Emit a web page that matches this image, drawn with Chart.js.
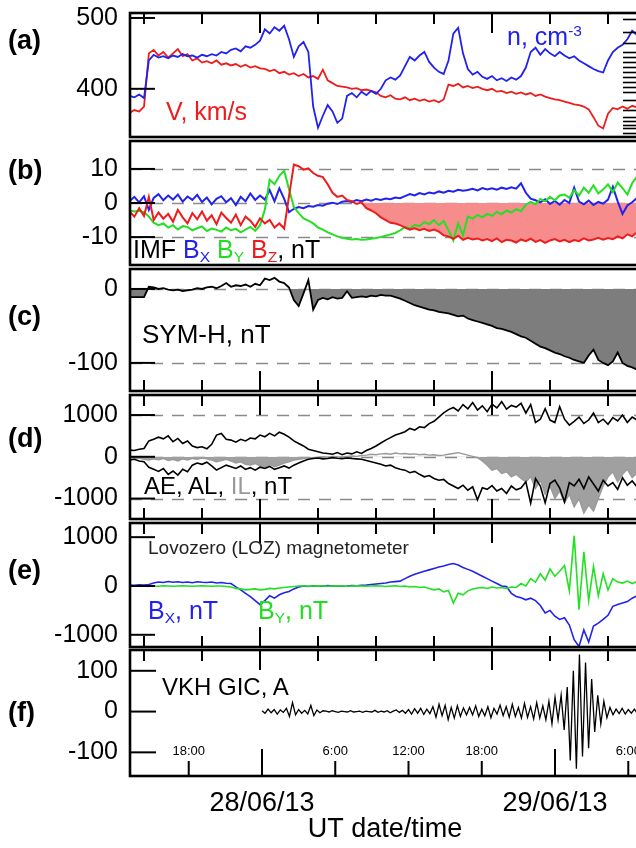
<!DOCTYPE html>
<html><head><meta charset="utf-8">
<script src="https://cdn.jsdelivr.net/npm/chart.js@4.4.1/dist/chart.umd.min.js"></script>
<style>
html,body{margin:0;padding:0;background:#fff;}
body{width:636px;height:848px;overflow:hidden;position:relative;font-family:"Liberation Sans",Arial,sans-serif;}
#wrap{position:absolute;left:0;top:0;width:636px;height:848px;overflow:hidden;}
.t{position:absolute;white-space:nowrap;line-height:1;transform:translateY(-50%);z-index:5;}
.pl{font-weight:bold;font-size:27px;left:8px;color:#000;}
sub{font-size:62%;line-height:0;vertical-align:-0.3em;}
sup{font-size:62%;line-height:0;vertical-align:0.55em;}
</style></head><body><div id="wrap">
<div class="t pl" style="top:40px">(a)</div>
<div class="t pl" style="top:170px">(b)</div>
<div class="t pl" style="top:316px">(c)</div>
<div class="t pl" style="top:438px">(d)</div>
<div class="t pl" style="top:570px">(e)</div>
<div class="t pl" style="top:712px">(f)</div>
<div class="t" style="left:507px;top:36px;font-size:25px;color:#2222ee">n, cm<sup>-3</sup></div>
<div class="t" style="left:166px;top:111px;font-size:25px;color:#ee1c1c">V, km/s</div>
<div class="t" style="left:133px;top:249px;font-size:25px;color:#000">IMF <span style="color:#2222ee">B<sub>X</sub></span> <span style="color:#22dd22">B<sub>Y</sub></span> <span style="color:#ee1c1c">B<sub>Z</sub></span>, nT</div>
<div class="t" style="left:142px;top:334px;font-size:26px;color:#000">SYM-H, nT</div>
<div class="t" style="left:144px;top:486px;font-size:24px;color:#000">AE, AL, <span style="color:#999">IL</span>, nT</div>
<div class="t" style="left:148px;top:547px;font-size:19px;color:#222">Lovozero (LOZ) magnetometer</div>
<div class="t" style="left:148px;top:610px;font-size:25px;color:#2222ee">B<sub>X</sub>, nT</div>
<div class="t" style="left:258px;top:610px;font-size:25px;color:#22dd22">B<sub>Y</sub>, nT</div>
<div class="t" style="left:162px;top:687px;font-size:24px;color:#000">VKH GIC, A</div>
</div>
<script>
// ---------------- DATA ----------------
// time in hours since 27/06/13 00:00 UT
const topStart = 10.5, topStep = 0.5;     // panels (a)-(e)
const gicStart = 24, gicStep = 0.25;      // panel (f)

// (a) solar wind speed V (km/s) and density n (drawn on same frame)
const aV = [366,370,368,375,
450,
455,447,452,444,450,456,446,449,
440,443,437,439,436,440,434,436,433,435,431,434,430,432,429,
428,425,427,422,424,420,422,418,421,416,418,
414,427,412,408,404,403,
402,400,401,398,399,397,395,
390,388,391,386,385,388,384,386,383,385,382,384,381,385,
406,404,407,402,404,401,403,400,
398,400,396,397,394,396,393,395,392,394,390,392,389,
387,385,384,382,380,378,377,375,
371,360,348,344,365,373,371,375,372,376,374,375];
const aN = [390,388,392,387,
440,
448,444,446,443,447,445,449,446,
447,444,448,446,449,447,452,450,455,
457,453,460,458,462,
468,484,478,487,482,489,470,445,460,466,452,375,345,362,377,368,352,358,
390,394,388,396,391,397,393,
400,412,416,413,419,432,445,440,447,452,438,430,424,421,
440,478,486,450,428,420,424,417,414,418,412,415,411,416,413,418,
430,452,458,448,456,450,446,452,447,443,446,440,436,432,428,425,423,
440,452,458,462,470,482,476,470];

// (b) IMF components, nT
const bBx = [0.5,1.8,0.2,2.0,-2.0,1.5,2.6,0.8,2.2,1.0,2.5,0.4,1.9,0.9,2.4,0.3,1.6,-0.4,1.2,2.0,0.2,1.4,-0.6,1.8,0.5,2.8,0.9,2.2,
1.0,3.8,0.5,4.3,1.2,
-2.7,
-1.7,-1.2,-1.5,-0.9,-1.1,-0.6,-0.8,-0.2,0.1,-0.3,0.4,
0.6,0.3,0.9,0.5,1.0,0.7,1.2,0.9,1.3,1.1,1.6,1.4,
2.0,2.6,2.2,2.9,2.5,3.1,2.8,3.4,3.0,3.6,3.3,3.9,3.6,
3.8,4.2,3.7,4.4,4.0,4.3,3.9,4.5,4.1,4.6,4.2,5.8,
3.0,1.3,
0.8,0.2,1.1,-0.3,0.6,-0.5,0.9,0.0,4.5,0.4,-0.4,0.7,-0.6,0.3,-0.2,1.0,4.8,0.5,-3.2,-0.7,0.2,1.5,0.8];
const bBy = [-2.2,-2.5,-2.3,-2.7,
-4.0,-5.8,-6.5,
-6.0,-7.2,-6.5,-7.8,-6.8,-7.0,-8.0,-7.4,-6.9,-8.2,-7.5,-7.9,-8.4,-7.2,-8.0,-7.6,-8.6,-7.8,-7.0,-8.2,-6.5,
-2.0,6.8,5.5,8.0,9.5,4.0,
-1.2,-3.0,-4.5,-5.2,
-6.0,-7.2,-7.8,-8.6,-9.2,-9.8,-10.2,
-10.5,-10.7,-10.6,-10.8,-10.7,-10.5,-10.3,
-10.0,-9.6,-9.2,-8.8,-8.0,
-7.0,-7.5,-6.4,-6.8,-5.6,-6.2,-5.0,-6.5,-5.3,
-8.0,-11.0,-6.0,-9.5,
-4.0,-4.6,-3.5,-4.2,-3.2,-3.8,-2.6,-3.3,-2.2,-2.8,-1.8,-2.4,
-0.5,0.3,-0.4,1.2,0.5,1.8,0.8,2.2,
2.5,1.5,3.8,2.2,4.5,3.0,5.2,2.8,4.0,5.5,3.2,6.0,4.4,2.5,5.8,7.8,6.5];
const bBz = [-2.5,-4.0,-1.5,-3.8,1.8,-5.0,-2.8,-4.6,-3.2,-5.5,-2.0,-4.2,-6.0,-3.0,-4.8,-2.5,-5.2,-3.6,-6.2,-2.8,-4.4,-5.8,-3.4,-6.5,-4.0,-5.2,-7.0,-4.5,
-6.0,-5.0,-7.2,-6.0,-7.5,
2.0,11.3,10.8,
9.8,10.2,8.8,8.0,7.6,
5.5,3.0,1.8,2.2,
0.9,0.5,-0.3,0.2,
-1.5,-2.2,-3.0,-4.2,-5.0,-5.8,-6.0,-6.5,
-7.2,-7.8,-7.4,-8.0,-7.6,-8.2,-7.8,-8.4,-9.5,
-9.8,-10.5,-9.6,-10.8,-10.2,-10.7,-10.4,-11.0,
-10.6,-11.2,-10.4,-11.5,-10.8,-11.0,-11.6,-10.7,-11.2,-10.5,-11.4,-10.9,-11.7,-11.0,-10.6,-11.3,-10.8,-11.5,-10.9,-11.2,-10.4,-11.0,-10.7,-10.2,-10.8,-10.3,-10.6,-9.8,-10.4,-9.2,-9.8,-8.6,-9.0];
const bFillFrom = 33.5;   // Bz shading starts here (hours)

// (c) SYM-H, nT
const cSymH = [-11,-11,-11,-11,
3,
2,0,1,-1,-2,-1,-3,-2,
-1,1,0,2,3,1,4,8,3,5,4,6,3,7,5,
14,12,15,10,8,
2,
-15,-23,
-6,
12,
-28,
-15,-12,-14,-11,-13,-12,
-3,
-12,-11,-10,-11,-9,-10,-8,-9,
-9,-11,-13,
-16,-19,-22,-24,-26,-28,-29,-31,-32,
-33,-35,-37,-36,-40,-42,-44,-46,
-48,-50,-53,-54,-56,-58,-61,-64,
-66,-70,-74,-78,-80,
-83,-86,-88,-91,-93,-96,-98,-100,
-90,-82,
-96,-100,-103,-98,-86,-100,-104,-106,-109,-111];

// (d) AE, AL, IL, nT
const dAE = [160,150,180,200,
380,420,470,430,500,
360,440,320,380,
260,220,240,190,
300,520,560,420,
400,350,420,380,
450,430,520,480,560,500,590,540,470,
380,320,260,180,150,
120,90,80,60,100,50,90,70,120,80,
150,200,260,330,400,460,520,560,
600,680,640,720,700,794,
850,950,1050,1130,
1180,1100,1250,1150,1300,1120,1220,1080,1260,1170,1320,1140,1230,1190,1280,
1050,1250,820,900,1150,
880,820,1200,900,760,850,950,800,880,1050,820,900,780,940,860,1000,820,950,880,920];
const dAL = [-80,-60,-100,-120,
-250,-300,-350,-280,-420,-340,-437,-300,-360,
-200,-150,-180,-130,-220,-318,-260,-200,
-240,-280,-220,-300,-260,-320,-250,-280,-230,-300,-260,-220,-270,
-200,-150,-100,-60,-40,
-30,-50,-40,-20,-35,-45,-30,-40,-50,-60,
-90,-120,-150,-180,-220,-200,-260,-300,
-320,-380,-350,-420,-480,-450,-520,-560,-540,
-640,-700,-760,-680,-800,-720,-1030,-740,-780,-690,-820,-760,-880,-700,-790,-750,
-600,-1110,-520,-700,-1100,-640,-560,-750,-1080,-620,-700,-540,-760,-480,-650,-820,-560,-700,-620,-780,-500,-680,-580,-720,-540];
const dIL = [-20,-40,-30,-60,-80,-50,-70,-40,-90,-60,-100,-50,-80,-40,-60,-30,-50,-80,-120,-90,-60,-100,-150,-120,-180,-200,-160,
-220,-250,-180,-240,-200,-150,-120,
-80,-60,-40,-30,-20,-10,0,-10,10,0,-5,10,20,10,30,
40,60,50,70,80,60,90,70,80,60,70,50,60,40,50,30,40,60,80,100,70,40,10,-20,
-100,-200,-320,-280,-400,-360,-480,-420,-520,
-600,-480,-760,-560,-900,-700,-1000,-820,-1100,-900,-1200,-1000,-1350,-1150,-1300,
-1000,-700,-480,-360,-600,-420,-300,-500,-380,-450];

// (e) Lovozero magnetometer, nT
const eBx = [20,15,25,20,30,
60,80,70,90,75,85,70,80,65,85,75,70,80,60,70,55,50,
-20,-80,-150,-220,-300,-384,
-300,-200,-250,-180,-140,-114,
-60,-20,0,-10,5,0,-5,10,0,5,-5,0,10,5,15,
20,30,40,50,60,80,90,100,
150,200,240,270,300,330,360,390,410,
440,460,430,
380,340,300,250,200,150,100,50,0,-13,
-150,-215,-240,-283,-250,-300,
-400,-552,-500,-620,-686,-650,
-800,-1100,-1240,-900,-1150,
-820,-760,-686,-600,
-417,-380,-350,-320,-250,-200,-180];
const eBy = [0,5,-5,0,5,0,-5,5,0,-5,0,5,0,-5,0,5,0,-5,0,0,-10,-20,
-50,-60,-80,-70,-60,-80,-70,-50,-60,-40,-30,-20,
-10,0,5,-5,0,5,0,-5,0,5,0,-5,0,5,0,-5,0,5,0,-10,0,5,-10,0,-20,-10,-30,-20,-50,
-80,-60,-120,-90,-350,-150,-180,-100,-60,
-40,-30,-50,-20,-40,-30,-50,-20,-30,
50,0,150,80,250,120,350,200,
300,420,-100,1030,-485,700,-300,
400,-200,250,-80,150,
80,60,100,50,90,70];

// (f) VKH GIC, A
const fGIC = [2,-4,6,-3,5,-6,4,-2,8,-12,22,-8,5,-4,3,-6,15,-10,4,-3,2,
1,-1,2,0,-2,1,0,-1,2,-1,0,1,-2,1,0,-1,3,-2,1,-1,2,-3,1,4,-2,3,-4,
5,-6,7,-4,8,-7,6,-5,
12,-14,18,-10,15,-20,10,-16,14,-12,9,-8,
10,-8,14,-12,6,-10,12,-15,8,-6,16,-10,12,-14,18,-12,10,-16,20,-14,12,-18,22,-16,14,-20,
25,-30,35,-20,40,-45,60,
-120,100,-140,140,-110,120,-90,80,
-50,40,-30,25,-15,
10,-8,6,-5,8,-6,5,-4,6,-5,3];

// axes
const topRange = [10.55, 63.31];
const gicRange = [13.19, 54.96];
const hourTicks = [12,18,24,30,36,42,48,54,60];
const dayTicks = [24,48];
const dayLabels = ['28/06/13','29/06/13'];
const fHourTicks = [18,24,30,36,42,48,54];
const fHourLabels = ['18:00','','6:00','12:00','18:00','','6:00'];
const aRightTicks = [498,480,465,452,445,438,431,424,417,410,403,396,384,370,360,355,349,344,338];

// ---------------- DRAWING ----------------
const BLUE='#2222ee', RED='#ee1c1c', GREEN='#22e022', PINK='#f78c8c';
Chart.defaults.font.family = '"Liberation Sans", Arial, sans-serif';
Chart.defaults.color = '#000';

const topT = aV.map((_, i) => topStart + i * topStep);
const gicT = fGIC.map((_, i) => gicStart + i * gicStep);
const pts = (T, V) => V.map((v, i) => ({x: T[i], y: v}));
const line = (T, V, color, w, order, extra) => Object.assign({data: pts(T, V), borderColor: color, borderWidth: w, pointRadius: 0, tension: 0, fill: false, order: order}, extra || {});

const framePlugin = {
  id: 'frame',
  beforeDatasetsDraw(chart, args, o) {
    const {ctx, chartArea: a} = chart; const y = chart.scales.y;
    ctx.save();
    ctx.strokeStyle = '#8a8a8a'; ctx.lineWidth = 1.6; ctx.setLineDash([12, 9]);
    (o.dashed || []).forEach(v => { const py = Math.round(y.getPixelForValue(v)) + 0.5; ctx.beginPath(); ctx.moveTo(a.left, py); ctx.lineTo(a.right, py); ctx.stroke(); });
    ctx.restore();
  },
  afterDatasetsDraw(chart, args, o) {
    const {ctx, chartArea: a} = chart; const y = chart.scales.y;
    ctx.save();
    ctx.strokeStyle = '#000'; ctx.setLineDash([]); ctx.lineWidth = 2;
    const seg = (x1, y1, x2, y2) => { ctx.beginPath(); ctx.moveTo(x1, y1); ctx.lineTo(x2, y2); ctx.stroke(); };
    (o.yTicks || []).forEach(v => { const py = y.getPixelForValue(v); seg(a.left, py, a.left + o.yLen, py); });
    (o.rightTicks || []).forEach(v => { const py = Math.round(y.getPixelForValue(v)) + 0.5; ctx.lineWidth = 1.6; seg(a.right, py, a.right - 17, py); });
    ctx.lineWidth = 2;
    if (o.top) { const s = chart.scales[o.top.scale]; o.top.ticks.forEach(t => { const px = s.getPixelForValue(t); seg(px, a.top, px, a.top + (dayTicks.includes(t) ? o.top.long : o.top.short)); }); }
    if (o.bottom) { const s = chart.scales[o.bottom.scale]; o.bottom.ticks.forEach((t, i) => {
      const px = s.getPixelForValue(t); const L = dayTicks.includes(t) ? o.bottom.long : o.bottom.short;
      seg(px, a.bottom, px, a.bottom - L);
      if (o.bottom.labels && o.bottom.labels[i]) { ctx.font = '13px "Liberation Sans", Arial, sans-serif'; ctx.fillStyle = '#000'; ctx.textAlign = 'center'; ctx.textBaseline = 'bottom'; ctx.fillText(o.bottom.labels[i], px, a.bottom - L - 3); }
    }); }
    ctx.lineWidth = 2.6; ctx.strokeRect(a.left, a.top, a.right - a.left, a.bottom - a.top);
    ctx.restore();
  }
};

const W = 660, PADR = 20, AXW = 130, PADT = 8;
function makePanel(p) {
  const divTop = p.top - PADT;
  const h = p.xAxis ? (848 - divTop) : (p.bottom - p.top + 2 * PADT);
  const c = document.createElement('canvas');
  c.width = W; c.height = h;
  c.style.cssText = 'position:absolute;left:0;top:' + divTop + 'px;width:' + W + 'px;height:' + h + 'px;';
  document.getElementById('wrap').insertBefore(c, document.getElementById('wrap').firstChild);
  const scales = {
    x: { type: 'linear', min: p.xr[0], max: p.xr[1], display: false },
    y: { type: 'linear', min: p.yr[0], max: p.yr[1], position: 'left',
         afterFit: s => { s.width = AXW; s.paddingTop = 0; s.paddingBottom = 0; },
         afterBuildTicks: s => { s.ticks = p.yTicks.map(v => ({value: v})); },
         grid: { display: false, drawTicks: false }, border: { display: false },
         ticks: { font: { size: 25 }, color: '#000', padding: 12, callback: v => String(v) } }
  };
  if (p.xAxis) {
    scales.x = { type: 'linear', min: p.xr[0], max: p.xr[1], display: true, position: 'bottom',
      afterFit: s => { s.height = 848 - p.bottom; s.paddingLeft = 0; s.paddingRight = 0; },
      afterBuildTicks: s => { s.ticks = dayTicks.map(v => ({value: v})); },
      grid: { display: false, drawTicks: false }, border: { display: false },
      ticks: { font: { size: 27 }, color: '#000', padding: 11, maxRotation: 0, autoSkip: false,
               callback: v => dayLabels[dayTicks.indexOf(v)] },
      title: { display: true, text: 'UT date/time', font: { size: 27 }, color: '#000', padding: { top: 0, bottom: 2 } } };
    scales.xt = { type: 'linear', axis: 'x', min: topRange[0], max: topRange[1], display: false };
  }
  new Chart(c, {
    type: 'line',
    data: { datasets: p.datasets },
    options: {
      responsive: false, animation: false, devicePixelRatio: 1,
      layout: { padding: { top: PADT, bottom: p.xAxis ? 0 : PADT, left: 0, right: PADR } },
      scales: scales,
      plugins: { legend: { display: false }, tooltip: { enabled: false }, frame: p.frame }
    },
    plugins: [framePlugin]
  });
}

const topTickOpts = { scale: 'x', ticks: hourTicks, short: 11, long: 20 };
const panels = [
  { top: 13, bottom: 137, xr: topRange, yr: [332, 507], yTicks: [400, 500],
    datasets: [ line(topT, aN, BLUE, 1.8, 1), line(topT, aV, RED, 1.8, 2) ],
    frame: { yTicks: [400, 500], yLen: 25, dashed: [], rightTicks: aRightTicks, top: topTickOpts } },
  { top: 141, bottom: 265, xr: topRange, yr: [-18.2, 18.2], yTicks: [-10, 0, 10],
    datasets: [
      line(topT, bBz, RED, 2, 1),
      line(topT, bBy, GREEN, 2, 2),
      line(topT, bBx, BLUE, 2, 3),
      line(topT, bBz.map((v, i) => topT[i] >= bFillFrom ? v : null), 'rgba(0,0,0,0)', 0, 10,
           { fill: { target: { value: 0 }, below: PINK, above: 'rgba(0,0,0,0)' } })
    ],
    frame: { yTicks: [-10, 0, 10], yLen: 25, dashed: [10, 0, -10] } },
  { top: 269, bottom: 391, xr: topRange, yr: [-138, 27], yTicks: [-100, 0],
    datasets: [ line(topT, cSymH, '#000', 1.8, 1, { fill: { target: { value: 0 }, below: '#7d7d7d', above: 'rgba(0,0,0,0)' } }) ],
    frame: { yTicks: [-100, 0], yLen: 25, dashed: [0, -100], bottom: topTickOpts } },
  { top: 395, bottom: 519, xr: topRange, yr: [-1490, 1480], yTicks: [-1000, 0, 1000],
    datasets: [
      line(topT, dAE, '#000', 1.6, 1),
      line(topT, dAL, '#000', 1.6, 2),
      line(topT, dIL, '#9a9a9a', 1.4, 5, { fill: { target: { value: 0 }, below: '#a0a0a0', above: 'rgba(0,0,0,0)' } })
    ],
    frame: { yTicks: [-1000, 0, 1000], yLen: 25, dashed: [1000, 0, -1000], top: topTickOpts, bottom: topTickOpts } },
  { top: 523, bottom: 647, xr: topRange, yr: [-1250, 1290], yTicks: [-1000, 0, 1000],
    datasets: [ line(topT, eBy, GREEN, 1.6, 1), line(topT, eBx, BLUE, 1.6, 2) ],
    frame: { yTicks: [-1000, 0, 1000], yLen: 25, dashed: [], top: topTickOpts, bottom: topTickOpts } },
  { top: 650, bottom: 776, xr: gicRange, yr: [-158, 151], yTicks: [-100, 0, 100], xAxis: true,
    datasets: [ line(gicT, fGIC, '#000', 1.3, 1) ],
    frame: { yTicks: [-100, 0, 100], yLen: 26, dashed: [],
             top: { scale: 'xt', ticks: hourTicks, short: 11, long: 20 },
             bottom: { scale: 'x', ticks: fHourTicks, labels: fHourLabels, short: 15, long: 27 } } }
];
panels.forEach(makePanel);
</script>
</body></html>
